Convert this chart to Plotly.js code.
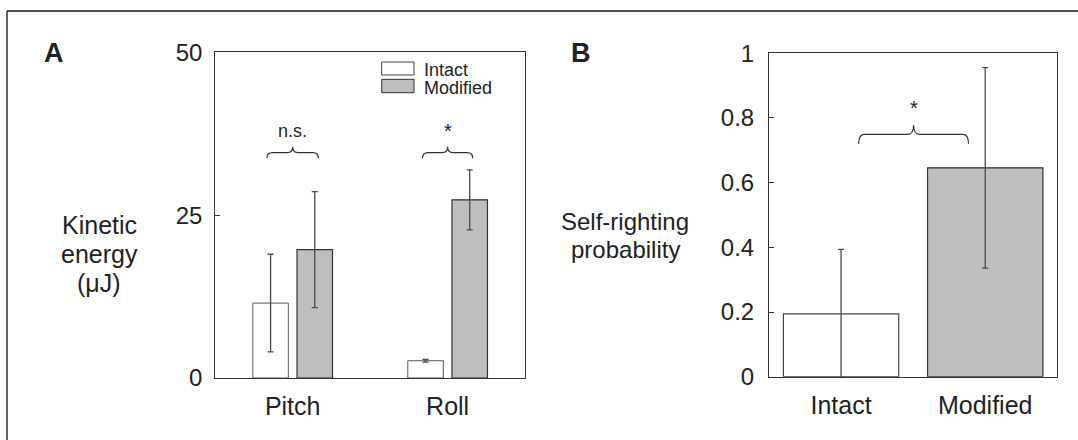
<!DOCTYPE html>
<html>
<head>
<meta charset="utf-8">
<script src="https://cdn.plot.ly/plotly-3.0.1.min.js"></script>
<style>
  html, body { margin: 0; padding: 0; background: #ffffff; }
  #fig { width: 1078px; height: 440px; }
</style>
</head>
<body>
<div id="fig"></div>
<script>
// Panel A: kinetic energy (µJ) by perturbation mode
const modesA = ['Pitch', 'Roll'];
const seriesNames = ['Intact', 'Modified'];
const intactEnergy = [11.5, 2.65];
const intactEnergyErr = [7.5, 0.2];
const modifiedEnergy = [19.7, 27.35];
const modifiedEnergyErr = [8.9, 4.6];
const sigLabelsA = ['n.s.', '*'];
const ticksA = [0, 25, 50];

// Panel B: self-righting probability by wing condition
const groupsB = ['Intact', 'Modified'];
const probB = [0.194, 0.646];
const probErrB = [0.2, 0.31];
const sigLabelsB = ['*'];
const ticksB = [0, 0.2, 0.4, 0.6, 0.8, 1];

const W = 1078, H = 440;
const FONT = 'Liberation Sans, Arial, Helvetica, sans-serif';
const INK = '#222222';
const GREY = '#bcbec0';

// pixel -> paper helpers (margins are zero, so paper spans the whole figure)
const px = x => x / W;
const py = y => 1 - y / H;

const errStyle = { type: 'data', symmetric: true, color: '#4a4a4a', thickness: 1.3, width: 3 };

const traces = [
  {
    type: 'bar', name: seriesNames[0], x: modesA.map((_, i) => i), y: intactEnergy,
    offset: -0.257, width: 0.229, xaxis: 'x', yaxis: 'y',
    marker: { color: '#ffffff', line: { color: '#555555', width: 1 } },
    error_y: Object.assign({ array: intactEnergyErr }, errStyle),
    showlegend: false, hoverinfo: 'skip'
  },
  {
    type: 'bar', name: seriesNames[1], x: modesA.map((_, i) => i), y: modifiedEnergy,
    offset: 0.028, width: 0.229, xaxis: 'x', yaxis: 'y',
    marker: { color: GREY, line: { color: '#333333', width: 1.2 } },
    error_y: Object.assign({ array: modifiedEnergyErr }, errStyle),
    showlegend: false, hoverinfo: 'skip'
  },
  {
    type: 'bar', name: 'Self-righting', x: groupsB.map((_, i) => i), y: probB,
    width: 0.8, xaxis: 'x2', yaxis: 'y2',
    marker: { color: ['#ffffff', GREY], line: { color: ['#444444', '#333333'], width: 1.2 } },
    error_y: Object.assign({ array: probErrB }, errStyle),
    showlegend: false, hoverinfo: 'skip'
  }
];

const axisBase = {
  showgrid: false, zeroline: false, showline: true, linecolor: '#333333', linewidth: 1,
  mirror: true, tickfont: { family: FONT, size: 24, color: INK }
};

// curly brace over a pair of bars, in data units of the given axes
function brace(xa, ya, xc, half, yEnd, yH, yP, dx) {
  const x0 = xc - half, x1 = xc + half;
  const path = `M ${x0},${yEnd} Q ${x0},${yH} ${x0 + dx},${yH} L ${xc - dx},${yH} ` +
    `Q ${xc},${yH} ${xc},${yP} Q ${xc},${yH} ${xc + dx},${yH} L ${x1 - dx},${yH} Q ${x1},${yH} ${x1},${yEnd}`;
  return { type: 'path', xref: xa, yref: ya, path: path, line: { color: '#333333', width: 1.2 } };
}

const shapes = [
  // figure frame (left and top rules)
  { type: 'line', xref: 'paper', yref: 'paper', x0: px(7), x1: px(7), y0: 0, y1: py(11), line: { color: '#111111', width: 1.3 } },
  { type: 'line', xref: 'paper', yref: 'paper', x0: px(7), x1: 1, y0: py(11), y1: py(11), line: { color: '#111111', width: 1.3 } },
  // legend swatches for panel A
  { type: 'rect', xref: 'paper', yref: 'paper', x0: px(381.7), x1: px(414), y0: py(75), y1: py(62), fillcolor: '#ffffff', line: { color: '#444444', width: 1 } },
  { type: 'rect', xref: 'paper', yref: 'paper', x0: px(381.7), x1: px(414), y0: py(92.7), y1: py(79.3), fillcolor: GREY, line: { color: '#333333', width: 1 } },
  // significance braces
  brace('x', 'y', 0, 0.166, 33.74, 34.6, 35.5, 0.035),
  brace('x', 'y', 1, 0.162, 33.74, 34.6, 35.5, 0.035),
  brace('x2', 'y2', 0.503, 0.381, 0.72, 0.749, 0.778, 0.04)
];

const ann = (text, x, y, size, opts) => Object.assign({
  text: text, xref: 'paper', yref: 'paper', x: px(x), y: py(y),
  xanchor: 'center', yanchor: 'middle', showarrow: false,
  font: { family: FONT, size: size, color: INK }
}, opts || {});

const annotations = [
  ann('<b>A</b>', 54, 53, 27),
  ann('<b>B</b>', 581, 53, 27),
  // axis titles
  ann('Kinetic', 99, 224.5, 25),
  ann('energy', 99, 254.5, 25),
  ann('(μJ)', 99, 283, 25),
  ann('Self-righting', 625, 221, 24),
  ann('probability', 625, 249, 24),
  // legend labels (fixed-height boxes so the two rows sit tight)
  ann(seriesNames[0], 421.7, 69.5, 18, { xanchor: 'left', height: 17 }),
  ann(seriesNames[1], 421.7, 87, 18, { xanchor: 'left', height: 17 }),
  // significance labels
  { text: sigLabelsA[0], xref: 'x', yref: 'paper', x: 0, y: py(130.5), showarrow: false,
    xanchor: 'center', yanchor: 'middle', font: { family: FONT, size: 18, color: INK } },
  { text: sigLabelsA[1], xref: 'x', yref: 'paper', x: 1, y: py(130.5), showarrow: false,
    xanchor: 'center', yanchor: 'middle', font: { family: FONT, size: 20, color: INK } },
  { text: sigLabelsB[0], xref: 'x2', yref: 'paper', x: 0.503, y: py(107.5), showarrow: false,
    xanchor: 'center', yanchor: 'middle', font: { family: FONT, size: 20, color: INK } }
];

const layout = {
  width: W, height: H,
  margin: { l: 0, r: 0, t: 0, b: 0 },
  paper_bgcolor: '#ffffff', plot_bgcolor: '#ffffff',
  barmode: 'overlay', showlegend: false,
  xaxis: Object.assign({}, axisBase, {
    domain: [px(215.2), px(525.1)], range: [-0.5, 1.5],
    tickvals: modesA.map((_, i) => i), ticktext: modesA, ticks: '',
    tickfont: { family: FONT, size: 25, color: INK }, ticklabelstandoff: 6, anchor: 'y'
  }),
  yaxis: Object.assign({}, axisBase, {
    domain: [py(378), py(52.3)], range: [0, 50],
    tickvals: ticksA, ticks: 'inside', ticklen: 5, tickcolor: '#333333',
    ticklabelstandoff: 7, anchor: 'x'
  }),
  xaxis2: Object.assign({}, axisBase, {
    domain: [px(769), px(1057.3)], range: [-0.5, 1.5],
    tickvals: groupsB.map((_, i) => i), ticktext: groupsB, ticks: '',
    tickfont: { family: FONT, size: 25, color: INK }, ticklabelstandoff: 6, anchor: 'y2'
  }),
  yaxis2: Object.assign({}, axisBase, {
    domain: [py(376.7), py(53.3)], range: [0, 1],
    tickvals: ticksB, ticks: 'inside', ticklen: 5, tickcolor: '#333333',
    ticklabelstandoff: 9, anchor: 'x2'
  }),
  shapes: shapes,
  annotations: annotations
};

Plotly.newPlot('fig', traces, layout, { staticPlot: true, displayModeBar: false });
</script>
</body>
</html>
